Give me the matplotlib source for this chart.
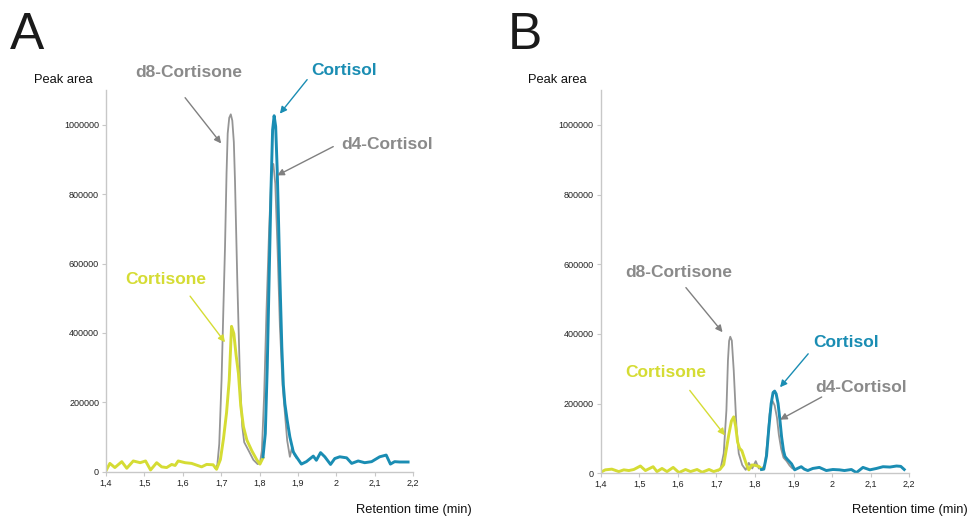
import matplotlib
matplotlib.use("Agg")
import matplotlib.pyplot as plt
from matplotlib.ticker import FixedLocator, FuncFormatter

plt.rcParams['font.family'] = ['Liberation Sans', 'DejaVu Sans']

# ---- panel A ----
a_cortisone_x = [1.400, 1.410, 1.423, 1.441, 1.454, 1.471, 1.489, 1.503, 1.516, 1.532, 1.545, 1.558,
                 1.571, 1.580, 1.588, 1.606, 1.623, 1.649, 1.662, 1.679, 1.688, 1.698, 1.706, 1.714,
                 1.721, 1.727, 1.733, 1.739, 1.745, 1.751, 1.758, 1.767, 1.780, 1.793, 1.801, 1.809]
a_cortisone_y = [3000, 24000, 12000, 29000, 10000, 31000, 26000, 31000, 5000, 26000, 14000, 12000,
                 21000, 18000, 31000, 26000, 24000, 14000, 21000, 20000, 7000, 35000, 95000, 170000,
                 264000, 419000, 398000, 335000, 283000, 190000, 130000, 91000, 60000, 34000, 22000, 40000]

a_d8_x = [1.685, 1.690, 1.695, 1.701, 1.706, 1.710, 1.714, 1.717, 1.721, 1.725, 1.729, 1.733,
          1.736, 1.742, 1.749, 1.755, 1.760, 1.771, 1.784, 1.795, 1.801]
a_d8_y = [10000, 20000, 80000, 264000, 480000, 647000, 860000, 975000, 1020000, 1030000, 1012000, 950000,
          839000, 552000, 264000, 130000, 85000, 62000, 34000, 22000, 25000]

a_d4_x = [1.801, 1.806, 1.812, 1.818, 1.825, 1.831, 1.836, 1.841, 1.847, 1.853, 1.860, 1.866,
          1.872, 1.879, 1.885, 1.890, 1.896]
a_d4_y = [25000, 60000, 220000, 460000, 700000, 860000, 887000, 830000, 640000, 420000, 250000, 170000,
          90000, 43000, 72000, 50000, 40000]

a_cortisol_x = [1.809, 1.815, 1.820, 1.825, 1.830, 1.834, 1.838, 1.842, 1.846, 1.849, 1.853, 1.858,
                1.862, 1.866, 1.872, 1.879, 1.888, 1.896, 1.909, 1.922, 1.940, 1.948, 1.959, 1.970,
                1.985, 1.996, 2.009, 2.027, 2.040, 2.057, 2.074, 2.092, 2.113, 2.130, 2.141, 2.152,
                2.165, 2.187]
a_cortisol_y = [43000, 110000, 300000, 560000, 820000, 985000, 1026000, 995000, 870000, 744000, 560000, 360000,
                250000, 196000, 148000, 100000, 57000, 43000, 22000, 29000, 45000, 33000, 55000, 43000,
                21000, 38000, 43000, 40000, 24000, 31000, 26000, 29000, 43000, 48000, 22000, 29000,
                28000, 28000]

# ---- panel B ----
b_cortisone_x = [1.400, 1.412, 1.429, 1.447, 1.460, 1.473, 1.486, 1.503, 1.516, 1.536, 1.546, 1.559,
                 1.572, 1.588, 1.603, 1.620, 1.633, 1.650, 1.663, 1.681, 1.693, 1.709, 1.719, 1.726,
                 1.732, 1.739, 1.745, 1.750, 1.755, 1.760, 1.766, 1.772, 1.778, 1.784, 1.792, 1.800,
                 1.810, 1.818]
b_cortisone_y = [3000, 10000, 12000, 5000, 10000, 8000, 11000, 21000, 8000, 19000, 5000, 14000,
                 5000, 17000, 2000, 11000, 5000, 11000, 3000, 11000, 5000, 11000, 25000, 70000,
                 110000, 150000, 162000, 135000, 90000, 72000, 65000, 45000, 25000, 10000, 24000, 23000,
                 20000, 12000]

b_d8_x = [1.705, 1.711, 1.719, 1.726, 1.730, 1.733, 1.736, 1.740, 1.745, 1.752, 1.758, 1.767, 1.776,
          1.784, 1.793, 1.802, 1.810, 1.819]
b_d8_y = [8000, 14000, 57000, 181000, 324000, 380000, 392000, 381000, 295000, 133000, 57000, 24000, 10000,
          30000, 14000, 35000, 14000, 14000]

b_d4_x = [1.819, 1.826, 1.832, 1.838, 1.843, 1.846, 1.851, 1.857, 1.862, 1.868, 1.874, 1.882,
          1.890, 1.897, 1.905]
b_d4_y = [14000, 25000, 90000, 170000, 200000, 207000, 195000, 160000, 110000, 70000, 45000, 35000,
          22000, 14000, 12000]

b_cortisol_x = [1.817, 1.823, 1.830, 1.836, 1.842, 1.847, 1.851, 1.855, 1.860, 1.865, 1.869, 1.874,
                1.878, 1.884, 1.890, 1.895, 1.903, 1.912, 1.920, 1.928, 1.937, 1.950, 1.967, 1.985,
                2.002, 2.019, 2.032, 2.050, 2.063, 2.080, 2.098, 2.115, 2.132, 2.150, 2.167, 2.178,
                2.187]
b_cortisol_y = [11000, 12000, 50000, 130000, 200000, 232000, 236000, 228000, 200000, 150000, 105000, 65000,
                48000, 40000, 33000, 27000, 10000, 15000, 19000, 12000, 8000, 14000, 17000, 8000,
                11000, 10000, 8000, 11000, 2000, 17000, 10000, 14000, 19000, 18000, 21000, 20000,
                11000]

x_ticks = [1.4, 1.5, 1.6, 1.7, 1.8, 1.9, 2.0, 2.1, 2.2]
y_ticks = [0, 200000, 400000, 600000, 800000, 1000000]

GRAY = '#959595'
GRAY_TXT = '#8a8a8a'
BLUE = '#1a8db3'
YELLOW = '#d5dc34'


def fmt_x(v, pos):
    s = ('%.1f' % v).rstrip('0').rstrip('.')
    return s.replace('.', ',')


def style_axes(ax):
    ax.set_xlim(1.4, 2.2)
    ax.set_ylim(0, 1100000)
    for s in ['top', 'right']:
        ax.spines[s].set_visible(False)
    for s in ['left', 'bottom']:
        ax.spines[s].set_color('#c8c8c8')
        ax.spines[s].set_linewidth(1.0)
    ax.xaxis.set_major_locator(FixedLocator(x_ticks))
    ax.xaxis.set_major_formatter(FuncFormatter(fmt_x))
    ax.yaxis.set_major_locator(FixedLocator(y_ticks))
    ax.yaxis.set_major_formatter(FuncFormatter(lambda v, p: '%d' % v))
    ax.tick_params(axis='both', labelsize=6.5, colors='#c8c8c8', labelcolor='#222222',
                   length=3, width=0.8, pad=2)


def arrow(ax, start, tip, color):
    ax.annotate('', xy=tip, xytext=start, annotation_clip=False,
                arrowprops=dict(arrowstyle='-|>', color=color, lw=1.0,
                                mutation_scale=10, shrinkA=0, shrinkB=0))


def label(ax, x, y, txt, color):
    ax.text(x, y, txt, color=color, fontsize=12.5, fontweight='bold',
            ha='center', va='center', clip_on=False)


fig = plt.figure(figsize=(9.71, 5.19), dpi=100)
axA = fig.add_axes([0.1092, 0.0911, 0.3162, 0.7354])
axB = fig.add_axes([0.6186, 0.0880, 0.3178, 0.7385])

for ax in (axA, axB):
    style_axes(ax)

# panel A traces
axA.plot(a_d8_x, a_d8_y, color=GRAY, lw=1.3, solid_joinstyle='round')
axA.plot(a_d4_x, a_d4_y, color=GRAY, lw=1.3, solid_joinstyle='round')
axA.plot(a_cortisone_x, a_cortisone_y, color=YELLOW, lw=2.1, solid_joinstyle='round')
axA.plot(a_cortisol_x, a_cortisol_y, color=BLUE, lw=2.1, solid_joinstyle='round')

label(axA, 1.616, 1150000, 'd8-Cortisone', GRAY_TXT)
arrow(axA, (1.606, 1078000), (1.700, 946000), '#808080')
label(axA, 2.019, 1156000, 'Cortisol', BLUE)
arrow(axA, (1.924, 1130000), (1.853, 1032000), BLUE)
label(axA, 2.131, 943000, 'd4-Cortisol', GRAY_TXT)
arrow(axA, (1.992, 937000), (1.846, 854000), '#808080')
label(axA, 1.556, 554000, 'Cortisone', YELLOW)
arrow(axA, (1.619, 506000), (1.710, 373000), YELLOW)

# panel B traces
axB.plot(b_d8_x, b_d8_y, color=GRAY, lw=1.3, solid_joinstyle='round')
axB.plot(b_d4_x, b_d4_y, color=GRAY, lw=1.3, solid_joinstyle='round')
axB.plot(b_cortisone_x, b_cortisone_y, color=YELLOW, lw=2.1, solid_joinstyle='round')
axB.plot(b_cortisol_x, b_cortisol_y, color=BLUE, lw=2.1, solid_joinstyle='round')

label(axB, 1.603, 576000, 'd8-Cortisone', GRAY_TXT)
arrow(axB, (1.621, 533000), (1.716, 405000), '#808080')
label(axB, 1.569, 289000, 'Cortisone', YELLOW)
arrow(axB, (1.631, 238000), (1.722, 109000), YELLOW)
label(axB, 2.037, 376000, 'Cortisol', BLUE)
arrow(axB, (1.938, 343000), (1.865, 247000), BLUE)
label(axB, 2.075, 247000, 'd4-Cortisol', GRAY_TXT)
arrow(axB, (1.973, 219000), (1.865, 154000), '#808080')

# axis titles and panel letters (figure coords)
for xl, xr in ((63 / 971, 414 / 971), (557 / 971, 910 / 971)):
    fig.text(xl, 1 - 80 / 519, 'Peak area', fontsize=9.3, ha='center', va='center', color='#111111')
    fig.text(xr, 1 - 510 / 519, 'Retention time (min)', fontsize=9.3, ha='center', va='center',
             color='#111111')
fig.text(10 / 971, 1 - 30 / 519, 'A', fontsize=37, ha='left', va='center_baseline', color='#1a1a1a')
fig.text(508 / 971, 1 - 30 / 519, 'B', fontsize=37, ha='left', va='center_baseline', color='#1a1a1a')

fig.savefig('out.png', dpi=100)
